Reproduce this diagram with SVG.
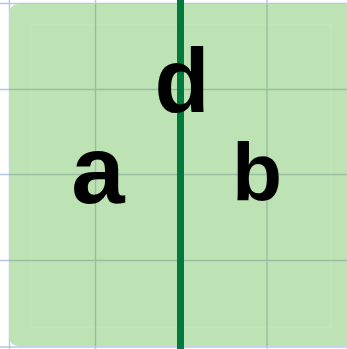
<svg xmlns="http://www.w3.org/2000/svg" width="347" height="349" viewBox="0 0 347 349">
<defs>
<style>
.grid line{stroke-width:1.4}
.outer line{stroke:#b6c6e6}
.inner line{stroke:#98bea2}
.lbl{font-family:"Liberation Sans","DejaVu Sans",sans-serif;font-weight:bold;fill:#000;text-anchor:middle}
</style>
<clipPath id="boxclip"><rect x="9" y="4" width="346" height="342" rx="9"/></clipPath>
</defs>
<rect width="347" height="349" fill="#ffffff"/>
<g class="grid outer">
<line x1="0" y1="3.5" x2="347" y2="3.5"/>
<line x1="0" y1="89.5" x2="347" y2="89.5"/>
<line x1="0" y1="174.5" x2="347" y2="174.5"/>
<line x1="0" y1="260.5" x2="347" y2="260.5"/>
<line x1="0" y1="347" x2="347" y2="347"/>
<line x1="9.5" y1="0" x2="9.5" y2="349"/>
<line x1="95.5" y1="0" x2="95.5" y2="349"/>
<line x1="267" y1="0" x2="267" y2="349"/>
</g>
<g id="board">
<rect x="9" y="4" width="346" height="342" rx="9" fill="#bde2b3"/>
<rect x="31" y="25" width="300" height="302" fill="none" stroke="#ffffff" stroke-opacity="0.2" stroke-width="1"/>
</g>
<g class="grid inner" clip-path="url(#boxclip)">
<line x1="0" y1="89.5" x2="347" y2="89.5"/>
<line x1="0" y1="174.5" x2="347" y2="174.5"/>
<line x1="0" y1="260.5" x2="347" y2="260.5"/>
<line x1="95.5" y1="0" x2="95.5" y2="349"/>
<line x1="267" y1="0" x2="267" y2="349"/>
</g>
<g id="divider">
<line x1="180.5" y1="0" x2="180.5" y2="349" stroke="#007a3d" stroke-width="7"/>
</g>
<g id="label-d"><text class="lbl" x="182" y="112" font-size="90">d</text></g>
<g id="label-a"><text class="lbl" x="98" y="203" font-size="96">a</text></g>
<g id="label-b"><text class="lbl" x="257" y="200" font-size="82">b</text></g>
</svg>
